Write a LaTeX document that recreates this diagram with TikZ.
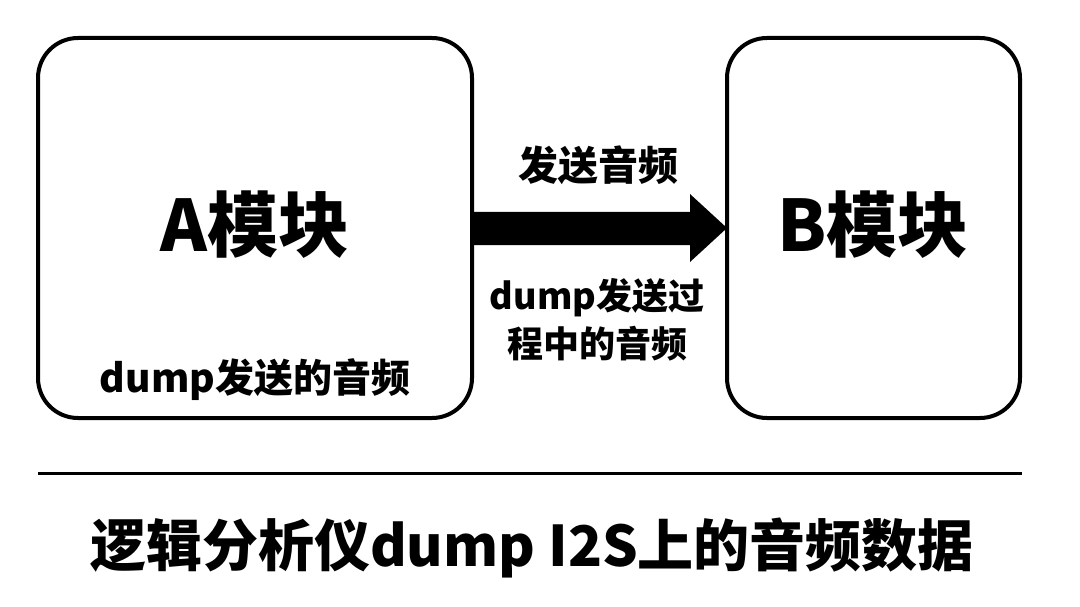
\documentclass[tikz,border=0pt]{standalone}
\usepackage{fontspec}
\setmainfont{Noto Sans CJK SC}
\begin{document}
\begin{tikzpicture}[x=1pt,y=-1pt,
  box/.style={draw,line width=4,rounded corners=40},
  lbl/.style={font=\bfseries\fontsize{38}{48}\selectfont,align=center}]
\useasboundingbox[fill=white] (0,0) rectangle (1080,607);
\draw[box] (38,38) rectangle (472,418);
\draw[box] (727,38) rectangle (1020,418);
\node (A) at (255,225) {\bfseries\fontsize{71}{72}\selectfont A模块};
\node (B) at (873,225) {\bfseries\fontsize{71}{72}\selectfont B模块};
\node[lbl,font=\bfseries\fontsize{39}{48}\selectfont] (Ad) at (255,380) {dump发送的音频};
\fill (472,212) -- (690,212) -- (690,194) -- (727,228) -- (690,262) -- (690,245) -- (472,245) -- cycle;
\node[lbl,font=\bfseries\fontsize{40}{48}\selectfont] (t1) at (598,165) {发送音频};
\node[lbl,font=\bfseries\fontsize{36}{48}\selectfont,inner sep=0] (t2) at (597,320) {dump发送过\\程中的音频};
\draw[line width=3] (38,473) -- (1022,473);
\node (T) at (532,548) {\bfseries\fontsize{56}{60}\selectfont 逻辑分析仪dump I2S上的音频数据};
\end{tikzpicture}
\end{document}
